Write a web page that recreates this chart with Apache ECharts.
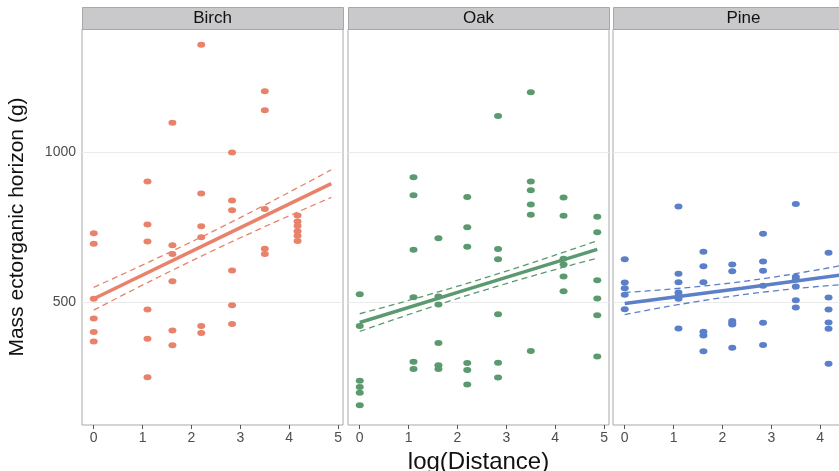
<!DOCTYPE html>
<html>
<head>
<meta charset="utf-8">
<script src="https://cdn.jsdelivr.net/npm/echarts@6/dist/echarts.min.js"></script>
<style>html,body{margin:0;padding:0;background:#fff;}#c{width:839px;height:471px;}</style>
</head>
<body>
<div id="c"></div>
<script>
// ---- data ----
const panels = ['Birch', 'Oak', 'Pine'];
const logDistance = [0, 1.10, 1.61, 2.20, 2.83, 3.50, 4.17, 4.86];
const birchMass = [
  [731, 696, 513, 447, 402, 371],
  [903, 760, 703, 477, 380, 252],
  [1098, 691, 662, 571, 407, 358],
  [1358, 863, 754, 717, 422, 399],
  [999, 840, 807, 607, 491, 429],
  [1203, 1140, 811, 679, 662],
  [790, 770, 755, 737, 722, 705],
  []
];
const oakMass = [
  [528, 422, 240, 219, 200, 159],
  [917, 857, 676, 518, 303, 279],
  [714, 520, 494, 366, 292, 279],
  [851, 751, 686, 299, 276, 228],
  [1121, 678, 644, 461, 300, 251],
  [1200, 903, 874, 826, 792, 339],
  [850, 789, 646, 627, 587, 538],
  [786, 734, 574, 514, 458, 321]
];
const pineMass = [
  [644, 567, 548, 526, 478],
  [820, 596, 568, 534, 522, 513, 414],
  [669, 621, 568, 403, 391, 338],
  [627, 604, 439, 432, 427, 350],
  [729, 637, 606, 556, 433, 359],
  [828, 586, 577, 554, 508, 484],
  [666, 517, 477, 434, 413, 297],
  []
];
// fitted lines and confidence bands read at these x positions
const fitX = [0, 2.4, 4.86];
const birchFit = [513, 702, 896];
const birchUpper = [551, 734, 942];
const birchLower = [475, 670, 850];
const oakFit = [434, 554, 677];
const oakUpper = [463, 574, 706];
const oakLower = [404, 534, 648];
const pineFit = [497, 548, 601];
const pineUpper = [534, 570, 637];
const pineLower = [460, 526, 565];
const xTicks = [0, 1, 2, 3, 4, 5];
const yTicks = [500, 1000];

// ---- chart ----
const colors = ['#e9826a', '#5a9a6e', '#5b7fc8'];
const massSets = [birchMass, oakMass, pineMass];
const fitSets = [
  [birchFit, birchUpper, birchLower],
  [oakFit, oakUpper, oakLower],
  [pineFit, pineUpper, pineLower]
];
const gridLefts = [82, 348, 613];
const gridWidth = 261;
const gridTop = 29, gridBottom = 46;
const borderCol = '#a8a8a8';
const font = 'Liberation Sans, Arial, sans-serif';

const grids = [], xAxes = [], yAxes = [], series = [], graphics = [];
const toPairs = (xs, ys) => xs.map((x, i) => [x, ys[i]]);

panels.forEach((name, p) => {
  grids.push({
    left: gridLefts[p], width: gridWidth, top: gridTop, bottom: gridBottom,
    containLabel: false, outerBoundsMode: 'none',
    show: true, borderColor: borderCol, borderWidth: 1, backgroundColor: '#fff'
  });
  xAxes.push({
    gridIndex: p, type: 'value', min: -0.24, max: 5.1,
    axisLine: { show: false },
    axisTick: { show: true, length: 4, lineStyle: { color: '#555' }, customValues: xTicks },
    axisLabel: { color: '#4d4d4d', fontSize: 14, fontFamily: font, margin: 6, customValues: xTicks,
      formatter: v => String(v) },
    splitLine: { show: false },
    name: p === 1 ? 'log(Distance)' : '',
    nameLocation: 'middle', nameGap: 21,
    nameTextStyle: { fontSize: 24, color: '#111', fontFamily: font, verticalAlign: 'top' }
  });
  yAxes.push({
    gridIndex: p, type: 'value', min: 93, max: 1410,
    axisLine: { show: false },
    axisTick: { show: p === 0, length: 4, lineStyle: { color: '#555' }, customValues: yTicks },
    axisLabel: { show: p === 0, color: '#4d4d4d', fontSize: 14, fontFamily: font, margin: 6, customValues: yTicks,
      formatter: v => String(v) },
    splitLine: { show: false },
    name: p === 0 ? 'Mass ectorganic horizon (g)' : '',
    nameLocation: 'middle', nameGap: 54, nameRotate: 90,
    nameTextStyle: { fontSize: 21, color: '#111', fontFamily: font }
  });
  const pts = [];
  massSets[p].forEach((arr, i) => arr.forEach(v => pts.push([logDistance[i], v])));
  series.push({
    type: 'scatter', xAxisIndex: p, yAxisIndex: p, data: pts,
    symbol: 'circle', symbolSize: [8, 6],
    itemStyle: { color: colors[p], opacity: 1 }, z: 3,
    markLine: {
      silent: true, symbol: 'none', label: { show: false }, z: 1,
      lineStyle: { color: '#ebebeb', width: 1, type: 'solid' },
      data: yTicks.map(v => ({ yAxis: v }))
    }
  });
  const [fit, up, lo] = fitSets[p];
  series.push({
    type: 'line', xAxisIndex: p, yAxisIndex: p, data: toPairs(fitX, fit),
    showSymbol: false, symbol: 'none', smooth: false,
    lineStyle: { color: colors[p], width: 3.5 }, z: 5
  });
  [up, lo].forEach(band => series.push({
    type: 'line', xAxisIndex: p, yAxisIndex: p, data: toPairs(fitX, band),
    showSymbol: false, symbol: 'none', smooth: true,
    lineStyle: { color: colors[p], width: 1.3, type: [6, 4] }, z: 4
  }));
  graphics.push({
    type: 'rect', left: gridLefts[p], top: 7,
    shape: { width: gridWidth, height: 22 },
    style: { fill: '#c9c9cc', stroke: borderCol, lineWidth: 1 }
  });
  graphics.push({
    type: 'text', x: gridLefts[p] + gridWidth / 2, y: 18,
    style: { text: name, fill: '#111', fontSize: 17, fontFamily: font, align: 'center', verticalAlign: 'middle' }
  });
});

const chart = echarts.init(document.getElementById('c'), null, { renderer: 'canvas' });
chart.setOption({
  animation: false,
  backgroundColor: '#fff',
  grid: grids, xAxis: xAxes, yAxis: yAxes, series: series,
  graphic: graphics
});
</script>
</body>
</html>
